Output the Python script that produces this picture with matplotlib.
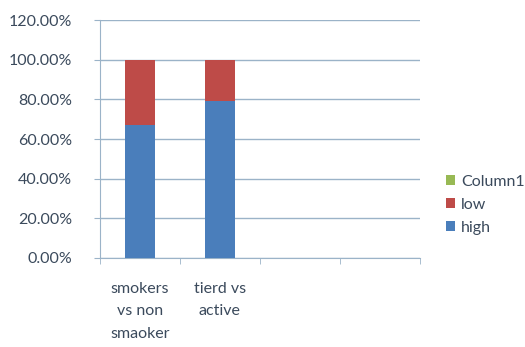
import matplotlib
matplotlib.use("Agg")
import matplotlib.pyplot as plt
import numpy as np
from matplotlib.ticker import FuncFormatter

categories = ["smokers\nvs non\nsmaoker", "tierd vs\nactive", "", ""]
high = [0.67, 0.79, 0, 0]
low = [0.33, 0.21, 0, 0]
column1 = [0, 0, 0, 0]
yticks = [0, 0.2, 0.4, 0.6, 0.8, 1.0, 1.2]

plt.rcParams['font.family'] = ['Lato', 'DejaVu Sans']
txt = '#3b4a5c'
grid_c = '#9bb3c8'
fs = 11.5

fig = plt.figure(figsize=(5.25, 3.47), dpi=100)
ax = fig.add_axes([0.19, 0.2565, 0.61, 0.6855])
x = np.arange(len(categories))
w = 0.38
ax.bar(x, high, w, color='#4a7ebb', label='high', zorder=3)
ax.bar(x, low, w, bottom=high, color='#be4b48', label='low', zorder=3)
ax.bar(x, column1, w, bottom=np.array(high) + np.array(low), color='#98b954', label='Column1', zorder=3)

ax.set_xlim(-0.5, len(categories) - 0.5)
ax.set_ylim(0, 1.2)
ax.set_yticks(yticks)
ax.yaxis.set_major_formatter(FuncFormatter(lambda v, p: f"{v*100:.2f}%"))
ax.yaxis.grid(True, color=grid_c, linewidth=1.0, zorder=0)
ax.set_xticks(x)
ax.set_xticklabels(categories, fontsize=fs, color=txt, linespacing=1.8)
ax.set_xticks(np.arange(-0.5, len(categories)), minor=True)
ax.tick_params(axis='x', which='major', length=0, pad=17)
ax.tick_params(axis='x', which='minor', length=4, color=grid_c, direction='out')
ax.tick_params(axis='y', length=4, color=grid_c, labelsize=fs, labelcolor=txt, pad=16)
for s in ['top', 'right']:
    ax.spines[s].set_visible(False)
for s in ['left', 'bottom']:
    ax.spines[s].set_color(grid_c)

h, l = ax.get_legend_handles_labels()
leg = fig.legend(h[::-1], l[::-1], loc='center left', bbox_to_anchor=(0.822, 0.41),
                 frameon=False, fontsize=fs, handlelength=0.55, handleheight=0.55,
                 handletextpad=0.4, labelspacing=0.55)
for t in leg.get_texts():
    t.set_color(txt)

fig.savefig("out.png", dpi=100)
